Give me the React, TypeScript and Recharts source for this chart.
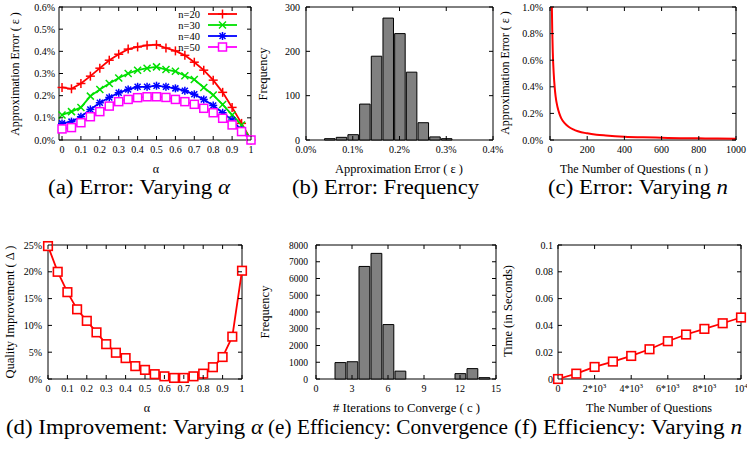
import React from 'react';
import { ComposedChart, Line, Bar, XAxis, YAxis, ReferenceArea, Legend } from 'recharts';

const FONT = '"Liberation Serif", "Times New Roman", serif';
const W = 747;
const H = 451;
const YW = 30;
const XH = 20;

// ---------- data ----------
// (a) error vs alpha
const alphas = [0, 0.05, 0.1, 0.15, 0.2, 0.25, 0.3, 0.35, 0.4, 0.45, 0.5, 0.55, 0.6, 0.65, 0.7, 0.75, 0.8, 0.85, 0.9, 0.95, 1];
const errN20 = [0.237, 0.231, 0.255, 0.288, 0.324, 0.36, 0.387, 0.41, 0.42, 0.427, 0.43, 0.415, 0.402, 0.382, 0.351, 0.315, 0.27, 0.215, 0.147, 0.075, 0];
const errN30 = [0.113, 0.128, 0.147, 0.198, 0.228, 0.255, 0.28, 0.3, 0.315, 0.324, 0.33, 0.318, 0.31, 0.29, 0.273, 0.237, 0.203, 0.16, 0.113, 0.068, 0];
const errN40 = [0.075, 0.083, 0.105, 0.138, 0.168, 0.192, 0.213, 0.228, 0.24, 0.24, 0.245, 0.24, 0.233, 0.222, 0.206, 0.183, 0.156, 0.123, 0.09, 0.045, 0];
const errN50 = [0.05, 0.056, 0.078, 0.105, 0.128, 0.153, 0.173, 0.183, 0.191, 0.195, 0.195, 0.192, 0.183, 0.173, 0.161, 0.143, 0.123, 0.098, 0.068, 0.038, 0];
const seriesNames = ['n=20', 'n=30', 'n=40', 'n=50'];
const seriesColors = ['#ff0000', '#00e000', '#0000ff', '#ff00ff'];
const seriesMarkers = ['plus', 'cross', 'star', 'square'];

// (b) error frequency histogram
const errBins = [0.05, 0.075, 0.1, 0.125, 0.15, 0.175, 0.2, 0.225, 0.25, 0.275, 0.3];
const errFreq = [3, 6, 12, 81, 189, 275, 240, 153, 39, 7, 3];

// (c) error vs number of questions
const nQuestions = [10, 12, 15, 20, 25, 30, 40, 50, 60, 80, 100, 125, 150, 200, 250, 300, 400, 500, 600, 700, 800, 900, 1000];
const errByN = [1.0, 0.83, 0.66, 0.5, 0.4, 0.33, 0.25, 0.2, 0.165, 0.125, 0.1, 0.08, 0.066, 0.05, 0.04, 0.034, 0.025, 0.02, 0.017, 0.014, 0.0125, 0.011, 0.01];

// (d) quality improvement vs alpha
const improvement = [24.8, 20.0, 16.2, 13.0, 10.85, 8.7, 6.5, 4.9, 3.9, 2.4, 1.7, 0.9, 0.5, 0.2, 0.2, 0.5, 1.0, 2.2, 4.1, 7.9, 20.2];

// (e) iterations to converge histogram
const iterBins = [2, 3, 4, 5, 6, 7, 12, 13, 14];
const iterFreq = [980, 1030, 6720, 7500, 3250, 470, 320, 620, 80];

// (f) time vs number of questions
const questionCounts = [0, 1000, 2000, 3000, 4000, 5000, 6000, 7000, 8000, 9000, 10000];
const timeSeconds = [0, 0.004, 0.009, 0.013, 0.0172, 0.0222, 0.0282, 0.0332, 0.0374, 0.0416, 0.0459];

// ticks
const ticksA_X = [0, 0.1, 0.2, 0.3, 0.4, 0.5, 0.6, 0.7, 0.8, 0.9, 1];
const ticksA_Y = [0, 0.1, 0.2, 0.3, 0.4, 0.5, 0.6];
const ticksB_X = [0, 0.1, 0.2, 0.3, 0.4];
const ticksB_Y = [0, 100, 200, 300];
const ticksC_X = [0, 200, 400, 600, 800, 1000];
const ticksC_Y = [0, 0.2, 0.4, 0.6, 0.8, 1.0];
const ticksD_Y = [0, 5, 10, 15, 20, 25];
const ticksE_X = [0, 3, 6, 9, 12, 15];
const ticksE_Y = [0, 1000, 2000, 3000, 4000, 5000, 6000, 7000, 8000];
const ticksF_X = [0, 2000, 4000, 6000, 8000, 10000];
const ticksF_Y = [0, 0.02, 0.04, 0.06, 0.08, 0.1];

// domains
const domA_X = [-0.016, 1];
const domA_Y = [0, 0.6];
const domB_X = [0, 0.4];
const domB_Y = [0, 300];
const domC_X = [0, 1000];
const domC_Y = [0, 1];
const domD_X = [0, 1];
const domD_Y = [0, 25];
const domE_X = [0, 15];
const domE_Y = [0, 8000];
const domF_X = [0, 10000];
const domF_Y = [0, 0.1];

// ---------- tables ----------
const dataA = alphas.map((a, i) => ({ a, n20: errN20[i], n30: errN30[i], n40: errN40[i], n50: errN50[i] }));
const dataB = errBins.map((e, i) => ({ e, f: errFreq[i] }));
const dataC = nQuestions.map((n, i) => ({ n, e: errByN[i] }));
const dataD = alphas.map((a, i) => ({ a, q: improvement[i] }));
const dataE = iterBins.map((c, i) => ({ c, f: iterFreq[i] }));
const dataF = questionCounts.map((n, i) => ({ n, t: timeSeconds[i] }));

type Rect = { l: number; r: number; t: number; b: number };
const RA: Rect = { l: 59, r: 251, t: 7, b: 140 };
const RB: Rect = { l: 306, r: 493, t: 7, b: 140 };
const RC: Rect = { l: 550, r: 736, t: 7, b: 140 };
const RD: Rect = { l: 48, r: 242, t: 245, b: 379 };
const RE: Rect = { l: 316, r: 496, t: 245, b: 379 };
const RF: Rect = { l: 558, r: 741, t: 245, b: 379 };

const marginFor = (r: Rect) => ({ top: r.t, right: W - r.r, bottom: H - r.b - XH, left: r.l - YW });

const xTick = (r: Rect, fmt: (v: number) => React.ReactNode, fs = 10) => (props: any) => {
  const { x, payload } = props;
  return (
    <g>
      <line x1={x} x2={x} y1={r.b} y2={r.b - 4} stroke="#000" />
      <line x1={x} x2={x} y1={r.t} y2={r.t + 4} stroke="#000" />
      <text x={x} y={r.b + 13} textAnchor="middle" fontSize={fs} fontFamily={FONT} fill="#000">{fmt(payload.value)}</text>
    </g>
  );
};

const yTick = (r: Rect, fmt: (v: number) => React.ReactNode, dx = 6, fs = 10) => (props: any) => {
  const { y, payload } = props;
  return (
    <g>
      <line x1={r.l} x2={r.l + 4} y1={y} y2={y} stroke="#000" />
      <line x1={r.r} x2={r.r - 4} y1={y} y2={y} stroke="#000" />
      <text x={r.l - dx} y={y + 3.5} textAnchor="end" fontSize={fs} fontFamily={FONT} fill="#000">{fmt(payload.value)}</text>
    </g>
  );
};

const Marker = ({ kind, cx, cy, color }: { kind: string; cx: number; cy: number; color: string }) => {
  const sw = 1.5;
  if (kind === 'plus') {
    const h = 4.5;
    return (<g stroke={color} strokeWidth={sw}><line x1={cx - h} x2={cx + h} y1={cy} y2={cy} /><line x1={cx} x2={cx} y1={cy - h} y2={cy + h} /></g>);
  }
  if (kind === 'cross') {
    const h = 3.5;
    return (<g stroke={color} strokeWidth={sw}><line x1={cx - h} x2={cx + h} y1={cy - h} y2={cy + h} /><line x1={cx - h} x2={cx + h} y1={cy + h} y2={cy - h} /></g>);
  }
  if (kind === 'star') {
    const h = 4;
    const d = 3;
    return (<g stroke={color} strokeWidth={sw}><line x1={cx - h} x2={cx + h} y1={cy} y2={cy} /><line x1={cx} x2={cx} y1={cy - h} y2={cy + h} /><line x1={cx - d} x2={cx + d} y1={cy - d} y2={cy + d} /><line x1={cx - d} x2={cx + d} y1={cy + d} y2={cy - d} /></g>);
  }
  const s = 4;
  return <rect x={cx - s} y={cy - s} width={2 * s} height={2 * s} fill="#fff" stroke={color} strokeWidth={sw} />;
};

const dotFn = (kind: string, color: string, size = 4) => (props: any) => {
  const { cx, cy, index } = props;
  if (cx == null || cy == null) return <g key={`d${index}`} />;
  if (kind === 'bigsquare') {
    return <rect key={`d${index}`} x={cx - size} y={cy - size} width={2 * size} height={2 * size} fill="#fff" stroke={color} strokeWidth={1.6} />;
  }
  return <g key={`d${index}`}><Marker kind={kind} cx={cx} cy={cy} color={color} /></g>;
};

const pct1 = (v: number) => `${v.toFixed(1)}%`;
const plain = (v: number) => `${v}`;

const legendContent = () => (
  <svg width={80} height={48} style={{ overflow: 'visible' }}>
    {seriesNames.map((name, i) => {
      const cy = 7 + i * 11;
      return (
        <g key={name}>
          <text x={35} y={cy + 3.5} textAnchor="end" fontSize={10.5} fontFamily={FONT} fill="#000">{name}</text>
          <line x1={43} x2={72} y1={cy} y2={cy} stroke={seriesColors[i]} strokeWidth={1.8} />
          <Marker kind={seriesMarkers[i]} cx={57.5} cy={cy} color={seriesColors[i]} />
        </g>
      );
    })}
  </svg>
);

const layer: React.CSSProperties = { position: 'absolute', left: 0, top: 0 };
const frameStyle = { fill: 'none', fillOpacity: 0, stroke: '#000', strokeWidth: 1, strokeOpacity: 1, ifOverflow: 'visible' as const };

const PanelA = () => (
  <div style={layer}>
    <ComposedChart width={W} height={H} data={dataA} margin={marginFor(RA)}>
      <XAxis dataKey="a" type="number" domain={domA_X} ticks={ticksA_X} interval={0} axisLine={false} tickLine={false} height={XH} tick={xTick(RA, plain)} />
      <YAxis type="number" domain={domA_Y} ticks={ticksA_Y} interval={0} axisLine={false} tickLine={false} width={YW} tick={yTick(RA, pct1, 4)} />
      <ReferenceArea x1={domA_X[0]} x2={domA_X[1]} y1={domA_Y[0]} y2={domA_Y[1]} {...frameStyle} />
      <Line dataKey="n20" stroke={seriesColors[0]} strokeWidth={1.8} isAnimationActive={false} dot={dotFn('plus', seriesColors[0])} />
      <Line dataKey="n30" stroke={seriesColors[1]} strokeWidth={1.8} isAnimationActive={false} dot={dotFn('cross', seriesColors[1])} />
      <Line dataKey="n40" stroke={seriesColors[2]} strokeWidth={1.8} isAnimationActive={false} dot={dotFn('star', seriesColors[2])} />
      <Line dataKey="n50" stroke={seriesColors[3]} strokeWidth={1.8} isAnimationActive={false} dot={dotFn('square', seriesColors[3])} />
      <Legend layout="vertical" align="center" verticalAlign="middle" wrapperStyle={{ position: 'absolute', left: 165, top: 7, width: 80, height: 48 }} content={legendContent} />
    </ComposedChart>
  </div>
);

const PanelB = () => (
  <div style={layer}>
    <ComposedChart width={W} height={H} data={dataB} margin={marginFor(RB)}>
      <XAxis dataKey="e" type="number" domain={domB_X} ticks={ticksB_X} interval={0} axisLine={false} tickLine={false} height={XH} tick={xTick(RB, pct1)} />
      <YAxis type="number" domain={domB_Y} ticks={ticksB_Y} interval={0} axisLine={false} tickLine={false} width={YW} tick={yTick(RB, plain, 6)} />
      <Bar dataKey="f" fill="#808080" stroke="#000" strokeWidth={1} barSize={11.7} isAnimationActive={false} />
      <ReferenceArea x1={domB_X[0]} x2={domB_X[1]} y1={domB_Y[0]} y2={domB_Y[1]} {...frameStyle} />
    </ComposedChart>
  </div>
);

const PanelC = () => (
  <div style={layer}>
    <ComposedChart width={W} height={H} data={dataC} margin={marginFor(RC)}>
      <XAxis dataKey="n" type="number" domain={domC_X} ticks={ticksC_X} interval={0} axisLine={false} tickLine={false} height={XH} tick={xTick(RC, plain)} />
      <YAxis type="number" domain={domC_Y} ticks={ticksC_Y} interval={0} axisLine={false} tickLine={false} width={YW} tick={yTick(RC, pct1, 7)} />
      <ReferenceArea x1={domC_X[0]} x2={domC_X[1]} y1={domC_Y[0]} y2={domC_Y[1]} {...frameStyle} />
      <Line dataKey="e" type="monotone" stroke="#ff0000" strokeWidth={2} dot={false} isAnimationActive={false} />
    </ComposedChart>
  </div>
);

const PanelD = () => (
  <div style={layer}>
    <ComposedChart width={W} height={H} data={dataD} margin={marginFor(RD)}>
      <XAxis dataKey="a" type="number" domain={domD_X} ticks={ticksA_X} interval={0} axisLine={false} tickLine={false} height={XH} tick={xTick(RD, plain)} />
      <YAxis type="number" domain={domD_Y} ticks={ticksD_Y} interval={0} axisLine={false} tickLine={false} width={YW} tick={yTick(RD, (v) => `${v}%`, 6)} />
      <ReferenceArea x1={domD_X[0]} x2={domD_X[1]} y1={domD_Y[0]} y2={domD_Y[1]} {...frameStyle} />
      <Line dataKey="q" stroke="#ff0000" strokeWidth={1.8} isAnimationActive={false} dot={dotFn('bigsquare', '#ff0000', 4.3)} />
    </ComposedChart>
  </div>
);

const PanelE = () => (
  <div style={layer}>
    <ComposedChart width={W} height={H} data={dataE} margin={marginFor(RE)}>
      <XAxis dataKey="c" type="number" domain={domE_X} ticks={ticksE_X} interval={0} axisLine={false} tickLine={false} height={XH} tick={xTick(RE, plain)} />
      <YAxis type="number" domain={domE_Y} ticks={ticksE_Y} interval={0} axisLine={false} tickLine={false} width={YW} tick={yTick(RE, plain, 8, 9.5)} />
      <Bar dataKey="f" fill="#808080" stroke="#000" strokeWidth={1} barSize={12} isAnimationActive={false} />
      <ReferenceArea x1={domE_X[0]} x2={domE_X[1]} y1={domE_Y[0]} y2={domE_Y[1]} {...frameStyle} />
    </ComposedChart>
  </div>
);

const supFmt = (v: number) => {
  if (v === 0) return '0';
  if (v === 10000) return (<><tspan>10</tspan><tspan dy={-4} fontSize={7}>4</tspan></>);
  return (<><tspan>{`${v / 1000}*10`}</tspan><tspan dy={-4} fontSize={7}>3</tspan></>);
};

const PanelF = () => (
  <div style={layer}>
    <ComposedChart width={W} height={H} data={dataF} margin={marginFor(RF)}>
      <XAxis dataKey="n" type="number" domain={domF_X} ticks={ticksF_X} interval={0} axisLine={false} tickLine={false} height={XH} tick={xTick(RF, supFmt)} />
      <YAxis type="number" domain={domF_Y} ticks={ticksF_Y} interval={0} axisLine={false} tickLine={false} width={YW} tick={yTick(RF, plain, 5)} />
      <ReferenceArea x1={domF_X[0]} x2={domF_X[1]} y1={domF_Y[0]} y2={domF_Y[1]} {...frameStyle} />
      <Line dataKey="t" stroke="#ff0000" strokeWidth={1.8} isAnimationActive={false} dot={dotFn('bigsquare', '#ff0000', 4.3)} />
    </ComposedChart>
  </div>
);

const Txt = ({ x, y, size, len, anchor = 'start', children }: any) => (
  <text x={x} y={y} fontSize={size} fontFamily={FONT} fill="#000" textAnchor={anchor}
    {...(len ? { textLength: len, lengthAdjust: 'spacingAndGlyphs' } : {})}>{children}</text>
);

const VTxt = ({ x, y, size, children }: any) => (
  <text transform={`translate(${x},${y}) rotate(-90)`} fontSize={size} fontFamily={FONT} fill="#000" textAnchor="middle">{children}</text>
);

const Overlay = () => (
  <svg width={W} height={H} style={{ position: 'absolute', left: 0, top: 0, pointerEvents: 'none' }}>
    {/* x-axis titles */}
    <Txt x={156} y={173} size={12} anchor="middle">α</Txt>
    <Txt x={335} y={173} size={12} len={128}>Approximation Error ( ε )</Txt>
    <Txt x={560} y={173} size={12} len={148}>The Number of Questions ( n )</Txt>
    <Txt x={147} y={412} size={12} anchor="middle">α</Txt>
    <Txt x={333} y={412} size={12} len={147}># Iterations to Converge ( c )</Txt>
    <Txt x={586} y={412} size={12} len={126}>The Number of Questions</Txt>
    {/* y-axis titles */}
    <VTxt x={19} y={74} size={12}>Approximation Error ( ε )</VTxt>
    <VTxt x={267} y={74} size={12.5}>Frequency</VTxt>
    <VTxt x={509} y={73} size={12}>Approximation Error ( ε )</VTxt>
    <VTxt x={14} y={312} size={12.5}>Quality Improvement ( Δ )</VTxt>
    <VTxt x={269} y={312} size={12.5}>Frequency</VTxt>
    <VTxt x={512} y={311} size={12.5}>Time (in Seconds)</VTxt>
    {/* captions */}
    <Txt x={48} y={194} size={20} len={182}>(a) Error: Varying <tspan fontStyle="italic">α</tspan></Txt>
    <Txt x={292} y={194} size={20} len={187}>(b) Error: Frequency</Txt>
    <Txt x={548} y={194} size={20} len={180}>(c) Error: Varying <tspan fontStyle="italic">n</tspan></Txt>
    <Txt x={6} y={434} size={20} len={257}>(d) Improvement: Varying <tspan fontStyle="italic">α</tspan></Txt>
    <Txt x={268} y={434} size={20} len={240}>(e) Efficiency: Convergence</Txt>
    <Txt x={514} y={434} size={20} len={228}>(f) Efficiency: Varying <tspan fontStyle="italic">n</tspan></Txt>
  </svg>
);

export default function App() {
  return (
    <div style={{ position: 'absolute', left: 0, top: 0, width: W, height: H, background: '#fff', overflow: 'hidden' }}>
      <PanelA />
      <PanelB />
      <PanelC />
      <PanelD />
      <PanelE />
      <PanelF />
      <Overlay />
    </div>
  );
}
